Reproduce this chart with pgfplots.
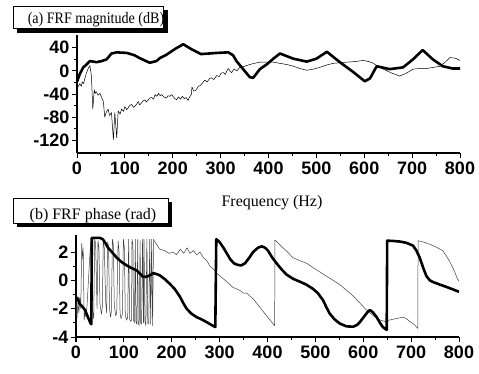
\documentclass[border=0pt]{standalone}
\usepackage{fontspec}
\setmainfont{Liberation Serif}
\newfontfamily\tickfont{Liberation Sans}
\usepackage{pgfplots}
\pgfplotsset{compat=1.18}
\pgfplotsset{
  myax/.style={
    scale only axis, width=383pt, xmin=0, xmax=800,
    axis x line=bottom, axis y line=left,
    axis line style={-, line width=1.2pt},
    tick align=outside, major tick length=5pt, minor tick length=3pt,
    every tick/.style={black, line width=1pt},
    xtick={0,100,...,800}, minor x tick num=1, minor y tick num=1,
    /pgf/number format/assume math mode=true,
    ticklabel style={font=\tickfont\bfseries\fontsize{18}{18}\selectfont},
    yticklabel style={xshift=1pt},
  },
  thick line/.style={black, line width=2.6pt, line join=round},
  thin line/.style={black, line width=0.5pt, line join=round},
}
\begin{document}
\begin{tikzpicture}[x=1pt,y=1pt]
\useasboundingbox (0,0) rectangle (479,373);
% ---------- (a) magnitude ----------
\begin{axis}[myax, at={(77pt,220pt)}, anchor=south west, height=118pt,
  ymin=-142, ymax=62, ytick={-120,-80,-40,0,40}]
\addplot[thin line] coordinates {
(0,-30) (4,-25) (6,-22) (9,-27) (11,-19) (14,-22) (16,-14) (20,-3) (24,5) (27,9)
(30,-8) (33,-66) (36,-33) (38,-39) (40,-36) (44,-42) (48,-39) (52,-47) (55,-53)
(58,-80) (61,-72) (65,-66) (68,-77) (72,-72) (76,-119) (79,-72) (83,-116) (86,-69)
(90,-75) (93,-66) (97,-70) (100,-62) (104,-67) (107,-64) (110,-60) (114,-58)
(118,-63) (121,-61) (125,-57) (128,-53) (131,-59) (135,-55) (138,-52) (142,-50)
(145,-54) (149,-50) (152,-47) (156,-46) (160,-49) (163,-41) (167,-44) (170,-39)
(174,-43) (177,-41) (181,-45) (187,-47) (190,-43) (194,-44) (198,-41) (203,-47)
(208,-50) (212,-45) (216,-49) (220,-44) (224,-48) (228,-46) (232,-51) (236,-44)
(239,-41) (240,-28) (244,-35) (249,-33) (253,-27) (258,-25) (262,-21) (267,-16)
(272,-19) (277,-13) (281,-12) (286,-15) (292,-8) (297,-10) (301,-4) (306,-3)
(310,-6) (313,0) (316,4) (320,-1) (323,-3) (328,3) (334,0) (340,6) (350,8)
(361,11) (370,13) (382,15) (396,15) (410,15) (424,13) (438,11) (452,8) (466,4)
(480,1) (494,3) (507,6) (521,10) (535,13) (549,14) (563,15) (580,16) (598,18)
(610,16) (619,13) (630,7) (640,3) (655,-3) (674,-9) (688,-4) (702,3) (716,4)
(730,4) (744,6) (758,8) (769,15) (779,23) (790,22) (800,18)
};
\addplot[thick line] coordinates {
(0,-19) (6,-5) (13,6) (20,11) (27,17) (41,15) (52,17) (62,20) (72,30) (83,32)
(104,31) (120,27) (131,22) (152,14) (166,17) (173,22) (187,28) (205,38) (222,46)
(240,37) (259,29) (292,31) (316,32) (326,27) (333,17) (345,5) (361,-11) (368,-12)
(382,3) (396,11) (410,21) (424,30) (452,21) (480,16) (500,21) (522,33) (549,15)
(577,-2) (601,-18) (612,-13) (626,8) (653,3) (681,6) (702,20) (722,36) (743,20)
(764,8) (785,4) (800,4)
};
\end{axis}
% ---------- (b) phase ----------
\begin{axis}[myax, at={(76pt,36pt)}, anchor=south west, height=102pt,
  ymin=-4, ymax=3.2, ytick={-4,-2,0,2}]
\addplot[thin line, black!75] coordinates {
(0,-1.4) (2,-2.7) (4,-1.6) (6,-2.3) (8,-1.2) (10,-2.0) (12,2.6) (13,1.5) (15,2.3)
(17,-2.8) (19,-2.2) (21,-2.6) (23,-1.8) (25,-0.6) (27,0.6) (29,1.8) (31,2.7)
(33,-1.0) (35,-2.2) (37,-2.7) (39,2.9) (41,2.6) (44,-2.0) (46,2.8) (48,2.2)
(50,-1.6) (53,-2.4) (55,-1.9) (57,2.9) (59,2.3) (62,-1.5) (64,-2.3) (66,2.7)
(68,2.4) (70,-2.0) (72,-2.6) (74,-2.2) (76,2.9) (78,2.5) (80,-1.8) (83,-2.5)
(85,-2.3) (88,2.8) (90,2.0) (92,-2.3) (94,-2.7) (97,-2.4) (99,2.9) (101,2.3)
(103,-2.5) (106,-2.8) (108,-2.6) (110,2.9) (112,-2.7) (114,-2.9) (116,-2.8)
(117,2.9) (119,2.5) (120,-2.8) (122,-3.0) (124,2.9) (125,-2.9) (127,-3.1)
(129,2.9) (130,-3.0) (132,-3.2) (134,2.8) (135,-3.0) (137,-3.1) (139,2.9)
(141,-3.0) (142,2.9) (144,-2.9) (146,-3.2) (148,2.9) (150,-3.1) (152,-3.0)
(154,2.9) (156,-3.1) (158,2.9) (160,-3.2) (162,2.9) (165,2.7)
(175,2.2) (185,2.1) (195,1.9)
(203,2.0) (210,1.8) (218,2.2) (225,1.9) (232,2.3) (238,1.9) (245,2.1) (252,1.8)
(259,2.0) (266,1.6) (273,1.4) (280,1.0) (287,0.8) (294,0.5) (301,0.3) (308,0.1)
(315,-0.1) (322,-0.3) (328,-0.5) (335,-0.6) (342,-0.7) (350,-0.9) (357,-0.9)
(363,-1.1) (370,-1.3) (377,-1.6) (384,-1.9) (391,-2.2) (398,-2.5) (405,-2.8)
(410,-3.0) (415,-3.2) (415.5,2.85) (423,2.6) (432,2.3) (442,2.0) (453,1.6)
(467,1.4) (482,1.2) (495,0.9) (509,0.6) (523,0.3) (537,0.0) (551,-0.3)
(565,-0.7) (579,-1.1) (593,-1.6) (604,-2.0) (614,-2.3) (625,-2.6) (635,-2.8)
(645,-2.9) (655,-2.8) (669,-2.7) (683,-2.6) (690,-2.7) (697,-2.9) (706,-3.1)
(714,-3.4) (714.5,2.8) (726,2.7) (739,2.55) (752,2.35) (766,2.1) (774,1.7)
(781,1.3) (787,0.9) (792,0.5) (797,0.1) (800,-0.05)
};
\addplot[thick line] coordinates {
(0,-1.2) (4,-1.3) (7,-1.65) (12,-1.8) (19,-2.1) (25,-2.6) (30,-3.0) (32,-3.1)
(33,3.0) (42,3.0) (50,3.0) (56,2.9) (62,2.6) (67,2.3) (75,2.0) (85,1.6) (95,1.3)
(106,1.05) (117,0.85) (127,0.7) (134,0.45) (140,0.25) (147,0.25) (154,0.35)
(161,0.5) (168,0.45) (175,0.35) (185,0.1) (196,-0.25) (206,-0.6) (217,-1.15)
(224,-1.6) (231,-2.0) (241,-2.35) (252,-2.6) (262,-2.75) (273,-2.95) (283,-3.15)
(291,-3.3) (293,2.9) (300,2.7) (308,2.3) (315,1.9) (322,1.5) (330,1.2) (337,1.1)
(345,1.05) (353,1.2) (362,1.6) (370,2.0) (380,2.3) (388,2.4) (395,2.3) (401,2.1)
(410,1.6) (419,1.2) (430,0.75) (440,0.4) (454,0.1) (468,-0.1) (481,-0.3)
(495,-0.6) (505,-0.9) (516,-1.4) (523,-1.9) (530,-2.35) (540,-2.75) (551,-3.05)
(565,-3.25) (579,-3.27) (587,-3.15) (593,-2.95) (603,-2.5) (610,-2.2) (614,-2.1)
(620,-2.25) (628,-2.6) (635,-3.0) (641,-3.3) (649,-3.5) (650,2.8) (662,2.78)
(676,2.74) (690,2.65) (704,2.45) (711,2.1) (718,1.6) (725,0.9) (732,0.3)
(739,0.0) (746,-0.12) (760,-0.3) (774,-0.47) (786,-0.62) (797,-0.77) (800,-0.8)
};
\end{axis}
% ---------- annotations ----------
\fill[black] (17,340) rectangle (168,363);
\filldraw[fill=white, draw=black, line width=0.8pt] (13,345) rectangle (163,367);
\node[font=\fontsize{16}{16}\selectfont] at (96,353) {\scalebox{0.88}[1]{(a) FRF magnitude (dB)}};
\fill[black] (17,146) rectangle (172,171);
\filldraw[fill=white, draw=black, line width=0.8pt] (13,150) rectangle (168,175);
\node[font=\fontsize{16}{16}\selectfont] at (93,157.5) {(b) FRF phase (rad)};
\node[font=\fontsize{16}{16}\selectfont] at (272,170) {Frequency (Hz)};
\end{tikzpicture}
\end{document}
